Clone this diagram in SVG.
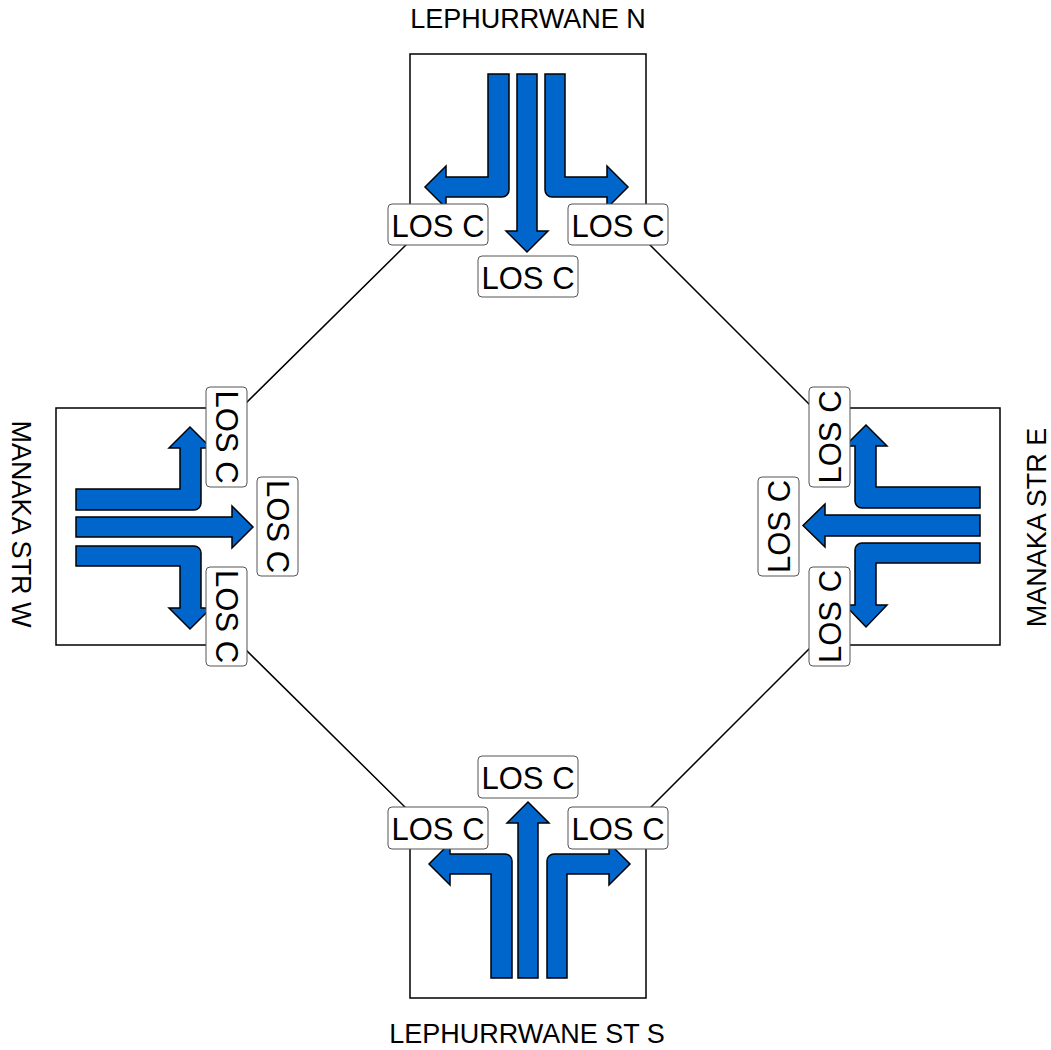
<svg xmlns="http://www.w3.org/2000/svg" width="1051" height="1050" viewBox="0 0 1051 1050">
  <style>
    .road { fill: none; stroke: #000; stroke-width: 1.5; }
    .mv { fill: #0066CC; stroke: #000; stroke-width: 1.5; stroke-linejoin: miter; }
    .tag { fill: #fff; stroke: #555; stroke-width: 1; }
    .los { font-family: "Liberation Sans", Arial, sans-serif; font-size: 31px; fill: #000; text-anchor: middle; }
    .street { font-family: "Liberation Sans", Arial, sans-serif; font-size: 27px; fill: #000; text-anchor: middle; }
  </style>
  <rect width="1051" height="1050" fill="#fff"/>

  <!-- intersection outline: four approach boxes joined by chamfered edges -->
  <g id="connectors">
    <path class="road" d="M 410,241 V 54 H 646 V 241 L 813,408 H 1000 V 645 H 813 L 646,812 V 998 H 410 V 812 L 241,645 H 56 V 408 H 241 Z"/>
  </g>

  <!-- north approach -->
  <g id="north">
    <text class="street" x="528" y="28">LEPHURRWANE N</text>
    <path class="mv" d="M 488,74 H 509 V 190 A 7 7 0 0 1 502,197 H 446 V 208 L 425,187 L 446,166 V 177 H 488 Z"/>
    <path class="mv" d="M 517,74 H 537 V 231 H 548 L 527,252 L 506,231 H 517 Z"/>
    <path class="mv" d="M 545,74 H 565 V 177 H 607 V 166 L 628,187 L 607,208 V 197 H 552 A 7 7 0 0 1 545,190 Z"/>
    <rect class="tag" x="388" y="204" width="100" height="41" rx="4"/>
    <text class="los" x="438" y="236.5">LOS C</text>
    <rect class="tag" x="568" y="204" width="100" height="41" rx="4"/>
    <text class="los" x="618" y="236.5">LOS C</text>
    <rect class="tag" x="478" y="256" width="100" height="41" rx="4"/>
    <text class="los" x="528" y="288.5">LOS C</text>
  </g>

  <!-- south approach -->
  <g id="south">
    <text class="street" x="527" y="1043">LEPHURRWANE ST S</text>
    <path class="mv" d="M 491,978 V 874 H 450 V 885 L 429,864 L 450,843 V 854 H 505 A 7 7 0 0 1 512,861 V 978 Z"/>
    <path class="mv" d="M 518,978 V 823 H 507 L 528,802 L 549,823 H 538 V 978 Z"/>
    <path class="mv" d="M 547,978 V 861 A 7 7 0 0 1 554,854 H 609 V 843 L 630,864 L 609,885 V 874 H 567 V 978 Z"/>
    <rect class="tag" x="478" y="756" width="100" height="42" rx="4"/>
    <text class="los" x="528" y="788.5">LOS C</text>
    <rect class="tag" x="388" y="807" width="100" height="42" rx="4"/>
    <text class="los" x="438" y="839.5">LOS C</text>
    <rect class="tag" x="568" y="807" width="100" height="42" rx="4"/>
    <text class="los" x="618" y="839.5">LOS C</text>
  </g>

  <!-- west approach -->
  <g id="west">
    <text class="street" transform="translate(12,524) rotate(90)">MANAKA STR W</text>
    <path class="mv" d="M 76,489 H 180 V 448 H 169 L 190,427 L 211,448 H 201 V 503 A 7 7 0 0 1 194,510 H 76 Z"/>
    <path class="mv" d="M 76,517 H 232 V 506 L 253,527 L 232,548 V 537 H 76 Z"/>
    <path class="mv" d="M 76,546 H 194 A 7 7 0 0 1 201,553 V 608 H 211 L 190,629 L 169,608 H 180 V 566 H 76 Z"/>
    <rect class="tag" x="206" y="387" width="41" height="100" rx="4"/>
    <text class="los" transform="translate(226.5,437) rotate(90)" y="11">LOS C</text>
    <rect class="tag" x="257" y="477" width="41" height="99" rx="4"/>
    <text class="los" transform="translate(277.5,526.5) rotate(90)" y="11">LOS C</text>
    <rect class="tag" x="206" y="567" width="41" height="99" rx="4"/>
    <text class="los" transform="translate(226.5,616.5) rotate(90)" y="11">LOS C</text>
  </g>

  <!-- east approach -->
  <g id="east">
    <text class="street" transform="translate(1046,527.5) rotate(-90)">MANAKA STR E</text>
    <path class="mv" d="M 980,487 H 876 V 446 H 887 L 866,425 L 845,446 H 855 V 501 A 7 7 0 0 0 862,508 H 980 Z"/>
    <path class="mv" d="M 980,515 H 825 V 504 L 803,525.5 L 825,547 V 536 H 980 Z"/>
    <path class="mv" d="M 980,543 H 862 A 7 7 0 0 0 855,550 V 605 H 845 L 866,627 L 887,605 H 876 V 563 H 980 Z"/>
    <rect class="tag" x="809" y="387" width="41" height="100" rx="4"/>
    <text class="los" transform="translate(829.5,437) rotate(-90)" y="11">LOS C</text>
    <rect class="tag" x="758" y="477" width="41" height="99" rx="4"/>
    <text class="los" transform="translate(778.5,526.5) rotate(-90)" y="11">LOS C</text>
    <rect class="tag" x="809" y="567" width="41" height="99" rx="4"/>
    <text class="los" transform="translate(829.5,616.5) rotate(-90)" y="11">LOS C</text>
  </g>
</svg>
